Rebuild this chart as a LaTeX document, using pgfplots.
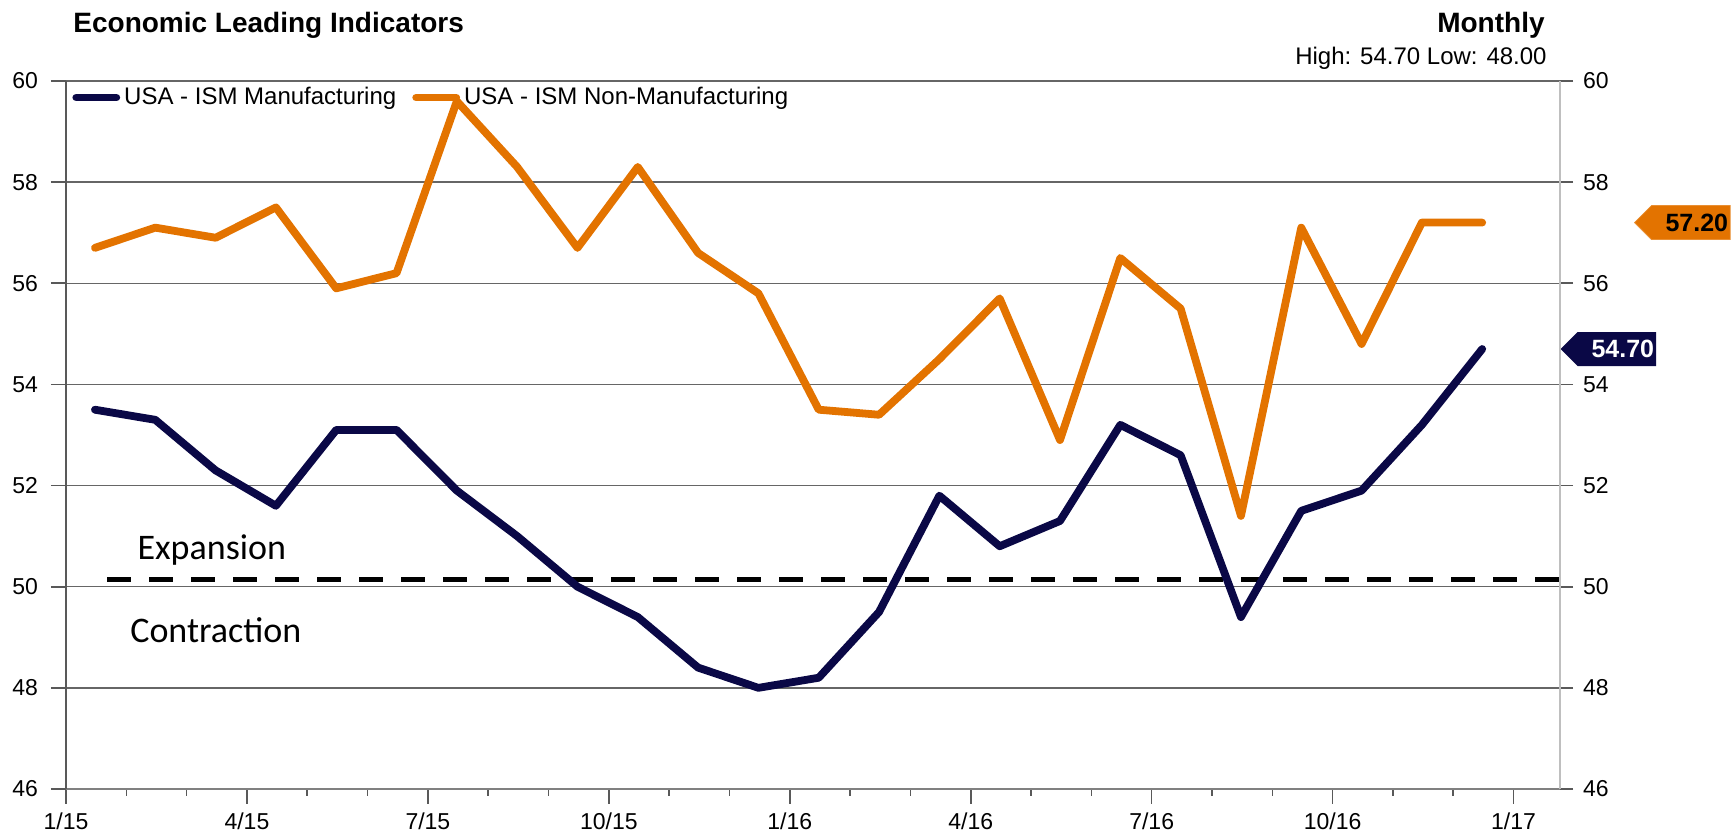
\documentclass[border=0pt]{standalone}
\usepackage{fontspec}
\setmainfont{Liberation Sans}
\newfontfamily\calibri{Carlito}
\usepackage{pgfplots}
\pgfplotsset{compat=1.18}
\usetikzlibrary{shapes.symbols}
\definecolor{navy}{RGB}{10,8,70}
\definecolor{orng}{RGB}{227,115,0}

\pgfplotstableread{
x    man   nonman
0.48 53.5 56.7
1.48 53.3 57.1
2.48 52.3 56.9
3.48 51.6 57.5
4.48 53.1 55.9
5.48 53.1 56.2
6.48 51.9 59.6
7.48 51.0 58.3
8.48 50.0 56.7
9.48 49.4 58.3
10.48 48.4 56.6
11.48 48.0 55.8
12.48 48.2 53.5
13.48 49.5 53.4
14.48 51.8 54.5
15.48 50.8 55.7
16.48 51.3 52.9
17.48 53.2 56.5
18.48 52.6 55.5
19.48 49.4 51.4
20.48 51.5 57.1
21.48 51.9 54.8
22.48 53.2 57.2
23.48 54.7 57.2
}\datatable

\begin{document}
\begin{tikzpicture}
\path[use as bounding box] (-33pt,-22pt) rectangle (834pt,394.5pt);
\begin{axis}[
  scale only axis, width=747pt, height=354pt,
  xmin=0, xmax=24.77, ymin=46, ymax=60,
  axis x line*=bottom, axis y line*=left,
  x axis line style={-, draw=black!50, line width=1pt},
  y axis line style={-, draw=black!65, line width=1pt},
  tick align=outside,
  xtick={0,3,...,24},
  xticklabels={1/15,4/15,7/15,10/15,1/16,4/16,7/16,10/16,1/17},
  minor xtick={1,2,4,5,7,8,10,11,13,14,16,17,19,20,22,23},
  ytick={46,48,...,60},
  major tick length=7.5pt, minor tick length=3.5pt,
  tick style={draw=black!65, line width=0.8pt},
  ymajorgrids,
  major grid style={draw=black!60, line width=0.75pt},
  tick label style={font=\fontsize{11.5}{13}\selectfont},
  /pgf/number format/assume math mode=true,
  yticklabel style={xshift=-3pt},
  xticklabel style={yshift=-1pt},
  clip=false,
  legend style={at={(0,1)}, anchor=north west, xshift=3pt, yshift=-1pt, draw=none, fill=none,
    inner sep=0pt, legend columns=-1,
    font=\fontsize{12}{14}\selectfont,
    /tikz/every even column/.append style={column sep=6pt}},
  legend image code/.code={\draw[#1, line cap=round] (0pt,0pt) -- (20pt,0pt);},
]
\addplot[black, line width=2.7pt, dash pattern=on 12pt off 9pt, forget plot] coordinates {(0.68,50.14) (24.77,50.14)};
\addplot[navy, line width=3.9pt, line join=round, line cap=round] table[x=x, y=man] {\datatable};
\addlegendentry{USA - ISM Manufacturing}
\addplot[orng, line width=3.9pt, line join=round, line cap=round] table[x=x, y=nonman] {\datatable};
\addlegendentry{USA - ISM Non-Manufacturing}

\node[anchor=base west, inner sep=0pt, font=\calibri\fontsize{18}{20}\selectfont] at (axis cs:1.18,50.53) {Expansion};
\node[anchor=base west, inner sep=0pt, font=\calibri\fontsize{18}{20}\selectfont] at (axis cs:1.06,48.9) {Contraction};

\node[signal, signal to=west, signal pointer angle=90, fill=navy, text=white, anchor=west,
  font=\bfseries\fontsize{12.5}{14}\selectfont, minimum height=17pt, minimum width=46pt, inner sep=1pt]
  at (axis cs:24.77,54.7) {\hspace*{6pt}54.70};
\node[signal, signal to=west, signal pointer angle=90, fill=orng, draw=orng!80!white, text=black, anchor=west,
  font=\bfseries\fontsize{12.5}{14}\selectfont, minimum height=17pt, minimum width=46.5pt, inner sep=1pt]
  at ([xshift=37pt]axis cs:24.77,57.2) {\hspace*{6pt}57.20};
\end{axis}
\begin{axis}[
  scale only axis, width=747pt, height=354pt,
  xmin=0, xmax=24.77, ymin=46, ymax=60,
  axis y line*=right, axis x line=none,
  y axis line style={-, draw=black!25, line width=1pt},
  tick align=outside,
  ytick={46,48,...,60},
  major tick length=6.5pt,
  tick style={draw=black!65, line width=0.8pt},
  tick label style={font=\fontsize{11.5}{13}\selectfont},
  /pgf/number format/assume math mode=true,
  yticklabel style={xshift=1.5pt},
]
\end{axis}
\node[anchor=base west, inner sep=0pt, font=\bfseries\fontsize{14}{16}\selectfont] at (3.5pt,378pt) {Economic Leading Indicators};
\node[anchor=base east, inner sep=0pt, font=\bfseries\fontsize{14}{16}\selectfont] at (739.5pt,378pt) {Monthly};
\node[anchor=base east, inner sep=0pt, font=\fontsize{12}{14}\selectfont] at (740.5pt,362pt) {High: 54.70 Low: 48.00};
\end{tikzpicture}
\end{document}
